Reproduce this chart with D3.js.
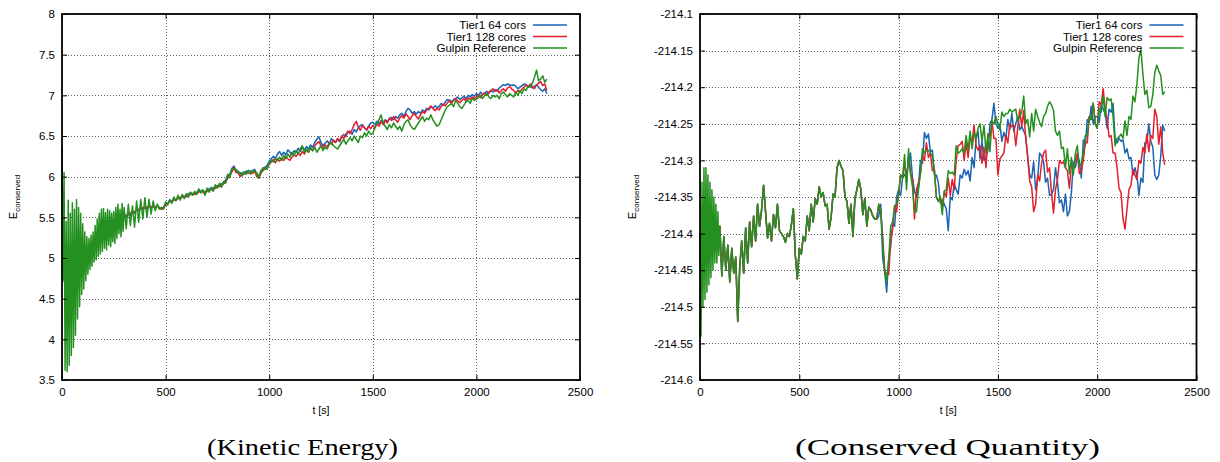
<!DOCTYPE html>
<html>
<head>
<meta charset="utf-8">
<script src="https://cdn.jsdelivr.net/npm/d3@7"></script>
<style>
  html, body { margin: 0; padding: 0; background: #fff; }
  svg { display: block; }
  .tick text { font-family: "Liberation Sans", Arial, Helvetica, sans-serif; font-size: 11.5px; fill: #000; }
</style>
</head>
<body>
<svg id="fig" width="1220" height="462"></svg>
<script>
// ---------------- series meta ----------------
const seriesNames  = ["Tier1 64 cors", "Tier1 128 cores", "Gulpin Reference"];
const seriesColors = ["#1a64b4", "#e41e2b", "#24901f"];

// ---------------- tick values ----------------
const timeTicks = [0, 500, 1000, 1500, 2000, 2500];
const keTicks   = [3.5, 4, 4.5, 5, 5.5, 6, 6.5, 7, 7.5, 8];
const cqTicks   = [-214.6, -214.55, -214.5, -214.45, -214.4, -214.35, -214.3, -214.25, -214.2, -214.15, -214.1];

// ---------------- sample times ----------------
// Tier1 runs are written every 10 s; the reference run is written more often at start-up.
const timeTier1KE  = d3.range(0, 2341, 10);
const timeGulpinKE = d3.range(0, 300, 5).concat(d3.range(300, 2341, 10));
const timeTier1CQ  = d3.range(0, 2341, 10);
const timeGulpinCQ = d3.range(0, 100, 5).concat(d3.range(100, 2341, 10));

// ---------------- kinetic energy ----------------
const keTier1_64 = [
  6.0, 4.8, 4.4, 5.2, 4.6, 5.0, 4.8, 5.2, 5.0, 5.1,
  5.0, 5.1, 5.05, 5.1, 5.1, 5.15, 5.2, 5.25, 5.3, 5.3,
  5.35, 5.35, 5.4, 5.38, 5.42, 5.4, 5.45, 5.48, 5.46, 5.5,
  5.52, 5.5, 5.55, 5.52, 5.58, 5.55, 5.6, 5.58, 5.62, 5.6,
  5.62, 5.6, 5.64, 5.62, 5.64, 5.62, 5.65, 5.62, 5.61, 5.62,
  5.67, 5.67, 5.71, 5.69, 5.73, 5.71, 5.75, 5.73, 5.77, 5.75,
  5.77, 5.79, 5.80, 5.79, 5.80, 5.81, 5.83, 5.82, 5.83, 5.81,
  5.84, 5.85, 5.86, 5.86, 5.88, 5.89, 5.90, 5.91, 5.93, 5.96,
  6.02, 6.03, 6.10, 6.13, 6.07, 6.07, 6.03, 6.05, 6.05, 6.07,
  6.06, 6.07, 6.07, 6.09, 6.03, 6.01, 6.06, 6.11, 6.11, 6.14,
  6.19,
  6.22, 6.25, 6.22, 6.28, 6.31, 6.26, 6.30, 6.27, 6.33, 6.30,
  6.27, 6.32, 6.30, 6.35, 6.31, 6.36, 6.33, 6.37, 6.34, 6.39,
  6.36, 6.42, 6.46, 6.49, 6.42, 6.38, 6.41, 6.44, 6.40, 6.47,
  6.44, 6.42, 6.46, 6.43, 6.49, 6.52, 6.49, 6.55, 6.56, 6.52,
  6.58, 6.55, 6.60, 6.63, 6.64, 6.60, 6.57, 6.62, 6.66, 6.67,
  6.64, 6.68, 6.65, 6.69, 6.66, 6.70, 6.68, 6.71, 6.73, 6.70,
  6.74, 6.72, 6.76, 6.78, 6.74, 6.80, 6.84, 6.82, 6.78, 6.80,
  6.77, 6.80, 6.78, 6.82, 6.80, 6.84, 6.82, 6.86, 6.84, 6.87,
  6.85, 6.86, 6.90, 6.88, 6.92, 6.95, 6.94, 6.92, 6.95, 6.96,
  6.98, 6.95, 6.97, 6.99, 6.96, 7.00, 6.98, 7.01, 6.99, 7.02,
  7.00, 7.04, 7.01, 7.03, 7.05, 7.02, 7.06, 7.04, 7.07, 7.05,
  7.09, 7.11, 7.13, 7.12, 7.14, 7.13, 7.12, 7.13, 7.11, 7.08,
  7.10, 7.12, 7.14, 7.13, 7.10, 7.12, 7.09, 7.11, 7.13, 7.10,
  7.07, 7.05, 7.08, 7.02
];
const keTier1_128 = [
  5.9, 4.9, 4.5, 5.1, 4.7, 5.1, 4.9, 5.1, 4.95, 5.15,
  5.05, 5.05, 5.1, 5.05, 5.15, 5.12, 5.22, 5.22, 5.28, 5.32,
  5.33, 5.37, 5.38, 5.4, 5.4, 5.43, 5.44, 5.46, 5.48, 5.48,
  5.5, 5.53, 5.53, 5.56, 5.56, 5.57, 5.59, 5.6, 5.6, 5.62,
  5.61, 5.63, 5.63, 5.63, 5.63, 5.62, 5.64, 5.61, 5.60, 5.61,
  5.65, 5.67, 5.69, 5.70, 5.71, 5.72, 5.73, 5.74, 5.75, 5.76,
  5.75, 5.77, 5.78, 5.79, 5.78, 5.79, 5.81, 5.82, 5.81, 5.79,
  5.82, 5.83, 5.84, 5.84, 5.86, 5.87, 5.88, 5.89, 5.91, 5.94,
  5.98, 6.01, 6.06, 6.11, 6.05, 6.05, 6.00, 6.03, 6.03, 6.05,
  6.04, 6.05, 6.04, 6.07, 6.00, 5.98, 6.04, 6.09, 6.09, 6.11,
  6.15,
  6.18, 6.21, 6.17, 6.22, 6.19, 6.23, 6.20, 6.25, 6.22, 6.20,
  6.24, 6.27, 6.25, 6.29, 6.26, 6.31, 6.28, 6.33, 6.30, 6.35,
  6.32, 6.38, 6.41, 6.43, 6.38, 6.35, 6.39, 6.36, 6.42, 6.40,
  6.45, 6.42, 6.47, 6.44, 6.50, 6.47, 6.52, 6.56, 6.53, 6.58,
  6.64, 6.68, 6.61, 6.57, 6.63, 6.60, 6.58, 6.62, 6.59, 6.63,
  6.60, 6.65, 6.62, 6.68, 6.64, 6.69, 6.66, 6.72, 6.69, 6.74,
  6.70, 6.67, 6.72, 6.75, 6.72, 6.77, 6.74, 6.70, 6.75, 6.78,
  6.74, 6.71, 6.76, 6.80, 6.78, 6.82, 6.84, 6.87, 6.84, 6.81,
  6.84, 6.82, 6.86, 6.89, 6.87, 6.91, 6.93, 6.90, 6.94, 6.96,
  6.93, 6.91, 6.94, 6.96, 6.93, 6.97, 6.95, 6.98, 6.96, 6.98,
  7.00, 6.97, 7.01, 7.03, 7.00, 7.04, 7.06, 7.08, 7.05, 7.07,
  7.03, 7.06, 7.08, 7.05, 7.09, 7.11, 7.08, 7.06, 7.03, 7.06,
  7.04, 7.08, 7.10, 7.13, 7.10, 7.14, 7.11, 7.08, 7.13, 7.15,
  7.17, 7.12, 7.14, 7.06
];
const keGulpin = [
  6.37, 4.72, 6.05, 3.62, 5.45, 3.60, 5.71, 3.68, 5.55, 3.80,
  5.68, 3.90, 5.60, 4.05, 5.72, 4.25, 5.62, 4.40, 5.55, 4.55,
  5.42, 4.62, 5.32, 4.72, 5.26, 4.80, 5.24, 4.86, 5.28, 4.90,
  5.32, 4.95, 5.40, 4.98, 5.48, 5.02, 5.55, 5.05, 5.60, 5.08,
  5.61, 5.12, 5.56, 5.10, 5.60, 5.16, 5.58, 5.14, 5.55, 5.20,
  5.57, 5.18, 5.62, 5.24, 5.66, 5.30, 5.60, 5.26, 5.67, 5.33,
  5.62, 5.36, 5.66, 5.40, 5.64, 5.38, 5.70, 5.44, 5.72, 5.48,
  5.74, 5.50, 5.72, 5.54, 5.70, 5.58, 5.66, 5.60, 5.62, 5.60,
  5.69, 5.65, 5.72, 5.67, 5.75, 5.70, 5.77, 5.71, 5.78, 5.73,
  5.79, 5.75, 5.81, 5.77, 5.82, 5.78, 5.85, 5.80, 5.84, 5.77,
  5.86, 5.81, 5.87, 5.82, 5.90, 5.86, 5.92, 5.87, 5.94, 5.92,
  6.03, 5.99, 6.10, 6.09, 6.09, 6.04, 6.05, 6.01, 6.06, 6.03,
  6.08, 6.03, 6.08, 6.05, 6.05, 5.98, 6.08, 6.07, 6.12, 6.09,
  6.16, 6.20, 6.18, 6.22, 6.20, 6.24, 6.20, 6.26, 6.22, 6.28,
  6.24, 6.30, 6.26, 6.32, 6.28, 6.34, 6.38, 6.30, 6.34, 6.30,
  6.36, 6.32, 6.36, 6.30, 6.34, 6.38, 6.32, 6.36, 6.34, 6.40,
  6.42, 6.38, 6.36, 6.34, 6.38, 6.42, 6.46, 6.40, 6.44, 6.48,
  6.44, 6.50, 6.46, 6.42, 6.50, 6.48, 6.54, 6.50, 6.56, 6.52,
  6.53, 6.60, 6.66, 6.70, 6.76, 6.66, 6.62, 6.58, 6.64, 6.60,
  6.66, 6.62, 6.58, 6.62, 6.56, 6.64, 6.68, 6.70, 6.64, 6.60,
  6.58, 6.62, 6.66, 6.70, 6.74, 6.68, 6.72, 6.70, 6.76, 6.70,
  6.66, 6.62, 6.64, 6.70, 6.76, 6.82, 6.86, 6.88, 6.90, 6.86,
  6.94, 6.90, 6.86, 6.84, 6.88, 6.92, 6.94, 6.90, 6.96, 6.94,
  6.95, 6.98, 7.00, 6.96, 7.00, 7.02, 6.98, 6.96, 7.00, 6.98,
  7.00, 6.96, 7.02, 7.04, 7.01, 6.98, 7.02, 7.00, 6.98, 7.04,
  7.00, 7.06, 7.02, 7.08, 7.06, 7.12, 7.10, 7.15, 7.22, 7.31,
  7.18, 7.20, 7.24, 7.16, 7.20
];

// ---------------- conserved quantity ----------------
const cqTier1_64 = [
  -214.40, -214.45, -214.38, -214.42, -214.40, -214.41, -214.38, -214.41, -214.39, -214.41,
  -214.390, -214.458, -214.404, -214.450, -214.416, -214.466, -214.420, -214.454, -214.432, -214.520,
  -214.446, -214.410, -214.454, -214.392, -214.440, -214.384, -214.418, -214.376, -214.410, -214.360,
  -214.390, -214.368, -214.334, -214.370, -214.406, -214.386, -214.410, -214.374, -214.392, -214.360,
  -214.396, -214.400, -214.404, -214.412, -214.400, -214.404, -214.388, -214.366, -214.430, -214.462,
  -214.420, -214.428, -214.404, -214.410, -214.376, -214.396, -214.360, -214.384, -214.352, -214.360,
  -214.336, -214.350, -214.344, -214.362, -214.360, -214.394, -214.378, -214.346, -214.350, -214.310,
  -214.300, -214.308, -214.314, -214.350, -214.356, -214.386, -214.360, -214.404, -214.352, -214.340,
  -214.326, -214.340, -214.374, -214.352, -214.390, -214.364, -214.368, -214.376, -214.380, -214.380,
  -214.376, -214.360, -214.434, -214.452, -214.480, -214.434, -214.418, -214.386, -214.390, -214.350,
  -214.340, -214.348, -214.324, -214.320, -214.316, -214.306, -214.290, -214.324, -214.342, -214.350,
  -214.336, -214.300, -214.304, -214.262, -214.270, -214.264, -214.288, -214.286, -214.320, -214.320,
  -214.330, -214.358, -214.354, -214.360, -214.366, -214.396, -214.350, -214.354, -214.332, -214.340,
  -214.346, -214.320, -214.324, -214.312, -214.320, -214.314, -214.328, -214.296, -214.310, -214.270,
  -214.260, -214.298, -214.274, -214.300, -214.296, -214.286, -214.250, -214.244, -214.222, -214.250,
  -214.256, -214.250, -214.274, -214.262, -214.270, -214.244, -214.258, -214.236, -214.260, -214.250,
  -214.240, -214.258, -214.254, -214.260, -214.266, -214.296, -214.320, -214.324, -214.302, -214.340,
  -214.326, -214.290, -214.294, -214.302, -214.330, -214.324, -214.348, -214.346, -214.340, -214.310,
  -214.330, -214.358, -214.354, -214.370, -214.346, -214.376, -214.370, -214.344, -214.302, -214.310,
  -214.296, -214.300, -214.324, -214.272, -214.280, -214.244, -214.248, -214.226, -214.250, -214.240,
  -214.240, -214.248, -214.224, -214.230, -214.236, -214.256, -214.230, -214.234, -214.222, -214.270,
  -214.276, -214.270, -214.274, -214.272, -214.290, -214.284, -214.298, -214.296, -214.320, -214.310,
  -214.320, -214.348, -214.324, -214.330, -214.276, -214.276, -214.250, -214.274, -214.282, -214.320,
  -214.326, -214.320, -214.294, -214.252, -214.260
];
const cqTier1_128 = [
  -214.41, -214.44, -214.39, -214.43, -214.40, -214.42, -214.39, -214.40, -214.40, -214.42,
  -214.390, -214.458, -214.404, -214.450, -214.416, -214.466, -214.420, -214.454, -214.432, -214.520,
  -214.446, -214.410, -214.454, -214.392, -214.440, -214.384, -214.418, -214.376, -214.410, -214.360,
  -214.390, -214.368, -214.334, -214.370, -214.406, -214.386, -214.410, -214.374, -214.392, -214.360,
  -214.396, -214.400, -214.404, -214.412, -214.400, -214.404, -214.388, -214.366, -214.430, -214.462,
  -214.420, -214.428, -214.404, -214.410, -214.376, -214.396, -214.360, -214.384, -214.352, -214.360,
  -214.336, -214.350, -214.344, -214.362, -214.360, -214.394, -214.378, -214.346, -214.350, -214.310,
  -214.300, -214.308, -214.314, -214.350, -214.356, -214.386, -214.360, -214.404, -214.352, -214.340,
  -214.326, -214.340, -214.374, -214.352, -214.390, -214.364, -214.368, -214.376, -214.380, -214.380,
  -214.360, -214.368, -214.404, -214.450, -214.456, -214.456, -214.410, -214.394, -214.362, -214.370,
  -214.346, -214.320, -214.324, -214.302, -214.330, -214.294, -214.318, -214.326, -214.380, -214.340,
  -214.330, -214.318, -214.294, -214.300, -214.276, -214.296, -214.290, -214.314, -214.312, -214.350,
  -214.356, -214.350, -214.364, -214.342, -214.350, -214.324, -214.348, -214.326, -214.340, -214.300,
  -214.280, -214.278, -214.274, -214.300, -214.276, -214.296, -214.270, -214.274, -214.252, -214.280,
  -214.286, -214.280, -214.304, -214.282, -214.310, -214.264, -214.268, -214.246, -214.270, -214.270,
  -214.320, -214.298, -214.294, -214.290, -214.266, -214.276, -214.250, -214.254, -214.252, -214.280,
  -214.256, -214.230, -214.254, -214.232, -214.270, -214.294, -214.328, -214.336, -214.370, -214.360,
  -214.320, -214.328, -214.304, -214.290, -214.286, -214.316, -214.310, -214.344, -214.372, -214.340,
  -214.326, -214.300, -214.304, -214.302, -214.310, -214.314, -214.338, -214.306, -214.310, -214.300,
  -214.290, -214.318, -214.314, -214.300, -214.276, -214.276, -214.240, -214.244, -214.222, -214.250,
  -214.256, -214.220, -214.224, -214.202, -214.230, -214.244, -214.268, -214.266, -214.290, -214.290,
  -214.310, -214.338, -214.344, -214.380, -214.394, -214.366, -214.340, -214.334, -214.312, -214.320,
  -214.326, -214.300, -214.304, -214.282, -214.290, -214.264, -214.288, -214.266, -214.270, -214.230,
  -214.240, -214.278, -214.254, -214.290, -214.306
];
const cqGulpin = [
  -214.40, -214.54, -214.33, -214.50, -214.31, -214.49, -214.31, -214.48, -214.32, -214.47,
  -214.33, -214.46, -214.34, -214.45, -214.35, -214.44, -214.36, -214.44, -214.37, -214.43,
  -214.390, -214.458, -214.404, -214.450, -214.416, -214.466, -214.420, -214.454, -214.432, -214.520,
  -214.446, -214.410, -214.454, -214.392, -214.440, -214.384, -214.418, -214.376, -214.410, -214.360,
  -214.390, -214.368, -214.334, -214.370, -214.406, -214.386, -214.410, -214.374, -214.392, -214.360,
  -214.396, -214.400, -214.404, -214.412, -214.400, -214.404, -214.388, -214.366, -214.430, -214.462,
  -214.420, -214.428, -214.404, -214.410, -214.376, -214.396, -214.360, -214.384, -214.352, -214.360,
  -214.336, -214.350, -214.344, -214.362, -214.360, -214.394, -214.378, -214.346, -214.350, -214.310,
  -214.300, -214.308, -214.314, -214.350, -214.356, -214.386, -214.360, -214.404, -214.352, -214.340,
  -214.326, -214.340, -214.374, -214.352, -214.390, -214.364, -214.368, -214.376, -214.380, -214.380,
  -214.360, -214.368, -214.414, -214.452, -214.466, -214.436, -214.390, -214.384, -214.362, -214.360,
  -214.346, -214.320, -214.324, -214.292, -214.340, -214.284, -214.318, -214.336, -214.370, -214.370,
  -214.340, -214.318, -214.284, -214.290, -214.286, -214.286, -214.290, -214.294, -214.312, -214.350,
  -214.356, -214.350, -214.374, -214.342, -214.340, -214.314, -214.318, -214.316, -214.320, -214.280,
  -214.290, -214.288, -214.284, -214.290, -214.266, -214.286, -214.260, -214.284, -214.262, -214.270,
  -214.256, -214.250, -214.274, -214.252, -214.290, -214.264, -214.288, -214.246, -214.250, -214.240,
  -214.250, -214.258, -214.234, -214.240, -214.236, -214.236, -214.230, -214.234, -214.232, -214.230,
  -214.246, -214.240, -214.234, -214.212, -214.250, -214.244, -214.268, -214.236, -214.260, -214.230,
  -214.240, -214.248, -214.254, -214.240, -214.236, -214.226, -214.220, -214.224, -214.232, -214.260,
  -214.266, -214.260, -214.284, -214.282, -214.310, -214.284, -214.318, -214.296, -214.320, -214.290,
  -214.280, -214.308, -214.304, -214.290, -214.266, -214.266, -214.240, -214.244, -214.222, -214.250,
  -214.256, -214.230, -214.234, -214.212, -214.240, -214.214, -214.218, -214.216, -214.240, -214.280,
  -214.270, -214.268, -214.264, -214.270, -214.246, -214.266, -214.240, -214.244, -214.212, -214.220,
  -214.196, -214.160, -214.149, -214.182, -214.210, -214.204, -214.228, -214.226, -214.210, -214.180,
  -214.170, -214.178, -214.184, -214.210, -214.206
];

// ---------------- drawing ----------------
const svg = d3.select("#fig");
svg.append("rect").attr("width", 1220).attr("height", 462).attr("fill", "#fff");

const plotTop = 14, plotBottom = 380;
const sansFont = '"Liberation Sans", Arial, Helvetica, sans-serif';

function drawPanel(cfg) {
  const g = svg.append("g");
  const x = d3.scaleLinear().domain([0, 2500]).range([cfg.left, cfg.right]);
  const y = d3.scaleLinear().domain(cfg.yDomain).range([plotBottom, plotTop]);
  const h = plotBottom - plotTop, w = cfg.right - cfg.left;

  // dotted grid
  const grid = g.append("g").attr("stroke", "#5e5e5e").attr("stroke-width", 1).attr("stroke-dasharray", "1,2");
  grid.selectAll("line.v").data(timeTicks.slice(1, -1)).join("line")
    .attr("x1", d => Math.round(x(d)) + 0.5).attr("x2", d => Math.round(x(d)) + 0.5)
    .attr("y1", plotTop).attr("y2", plotBottom);
  grid.selectAll("line.h").data(cfg.yTicks.slice(1, -1)).join("line")
    .attr("x1", cfg.left).attr("x2", cfg.right)
    .attr("y1", d => Math.round(y(d)) + 0.5).attr("y2", d => Math.round(y(d)) + 0.5);

  // key background
  g.append("rect")
    .attr("x", cfg.right - 166).attr("y", plotTop + 2)
    .attr("width", 162).attr("height", 36.5).attr("fill", "#fff");

  // curves
  const line = d3.line().x(d => x(d[0])).y(d => y(d[1]));
  cfg.series.forEach((s, i) => {
    g.append("path")
      .datum(d3.zip(s.t, s.v))
      .attr("fill", "none")
      .attr("stroke", seriesColors[i])
      .attr("stroke-width", 1.5)
      .attr("stroke-linejoin", "round")
      .attr("d", line);
  });

  // axes with inward ticks on all four sides
  const fmt = d => String(d);
  const axB = g.append("g").attr("transform", `translate(0,${plotBottom})`)
    .call(d3.axisBottom(x).tickValues(timeTicks).tickFormat(fmt).tickSize(-5).tickSizeOuter(0).tickPadding(8));
  const axT = g.append("g").attr("transform", `translate(0,${plotTop})`)
    .call(d3.axisTop(x).tickValues(timeTicks).tickFormat("").tickSize(-5).tickSizeOuter(0));
  const axL = g.append("g").attr("transform", `translate(${cfg.left},0)`)
    .call(d3.axisLeft(y).tickValues(cfg.yTicks).tickFormat(fmt).tickSize(-5).tickSizeOuter(0).tickPadding(7));
  const axR = g.append("g").attr("transform", `translate(${cfg.right},0)`)
    .call(d3.axisRight(y).tickValues(cfg.yTicks).tickFormat("").tickSize(-5).tickSizeOuter(0));
  [axB, axT, axL, axR].forEach(a => {
    a.select(".domain").remove();
    a.selectAll(".tick line").attr("stroke", "#000").attr("stroke-width", 1);
  });

  // frame
  g.append("rect")
    .attr("x", cfg.left).attr("y", plotTop).attr("width", w).attr("height", h)
    .attr("fill", "none").attr("stroke", "#000").attr("stroke-width", 1.8);

  // key
  const keyEnd = cfg.right - 54;
  seriesNames.forEach((name, i) => {
    const ky = 25 + i * 11.5;
    g.append("text").attr("x", keyEnd).attr("y", ky).attr("dy", "0.35em")
      .attr("text-anchor", "end").attr("font-family", sansFont).attr("font-size", 11.5)
      .text(name);
    g.append("line").attr("x1", keyEnd + 7).attr("x2", keyEnd + 41)
      .attr("y1", ky).attr("y2", ky)
      .attr("stroke", seriesColors[i]).attr("stroke-width", 1.5);
  });

  // axis titles
  g.append("text").attr("x", (cfg.left + cfg.right) / 2).attr("y", 414)
    .attr("text-anchor", "middle").attr("font-family", sansFont).attr("font-size", 10.5)
    .text("t [s]");
  const yl = g.append("text")
    .attr("transform", `translate(${cfg.yLabelX},197) rotate(-90)`)
    .attr("text-anchor", "middle").attr("font-family", sansFont);
  yl.append("tspan").attr("font-size", 11).text("E");
  yl.append("tspan").attr("font-size", 8).attr("dy", 3).text("conserved");

  // caption
  g.append("text").attr("x", cfg.captionX).attr("y", 455)
    .attr("text-anchor", "middle")
    .attr("font-family", '"Liberation Serif", "Times New Roman", serif')
    .attr("font-size", 23)
    .attr("textLength", cfg.captionWidth).attr("lengthAdjust", "spacingAndGlyphs")
    .text(cfg.caption);
}

drawPanel({
  left: 62, right: 580,
  yDomain: [3.5, 8], yTicks: keTicks,
  yLabelX: 17,
  caption: "(Kinetic Energy)", captionX: 302.5, captionWidth: 191,
  series: [
    { t: timeTier1KE, v: keTier1_64 },
    { t: timeTier1KE, v: keTier1_128 },
    { t: timeGulpinKE, v: keGulpin }
  ]
});

drawPanel({
  left: 700, right: 1196.5,
  yDomain: [-214.6, -214.1], yTicks: cqTicks,
  yLabelX: 636,
  caption: "(Conserved Quantity)", captionX: 947.5, captionWidth: 305,
  series: [
    { t: timeTier1CQ, v: cqTier1_64 },
    { t: timeTier1CQ, v: cqTier1_128 },
    { t: timeGulpinCQ, v: cqGulpin }
  ]
});
</script>
</body>
</html>
